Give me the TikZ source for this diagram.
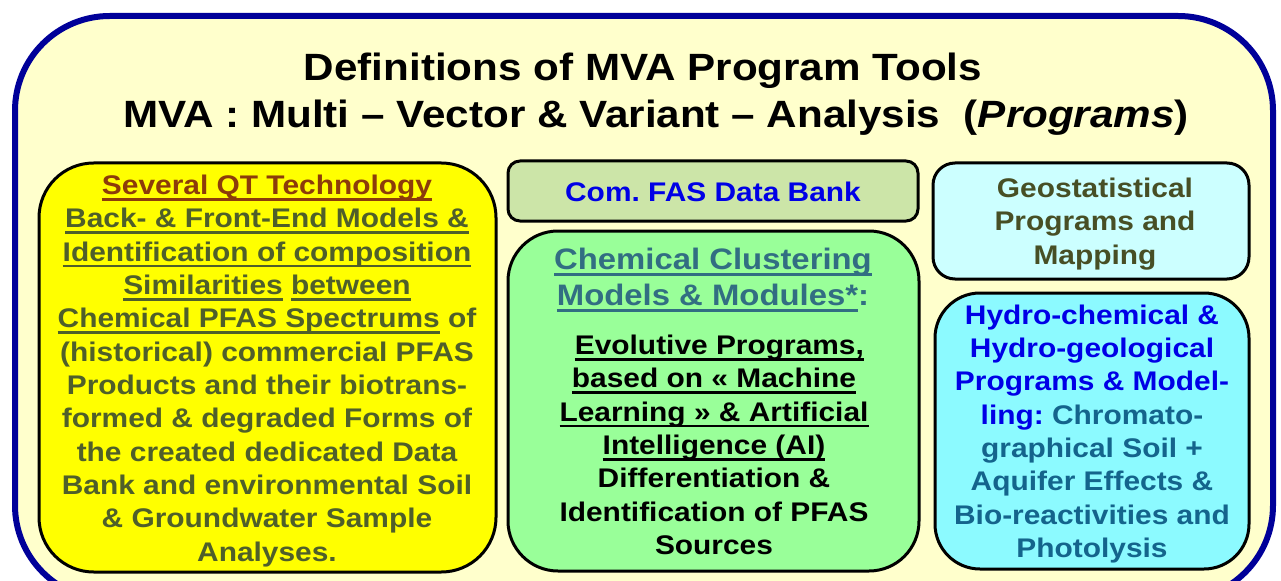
\documentclass[tikz,border=0pt]{standalone}
\usepackage{fontspec}
\setmainfont{Liberation Sans}[FakeStretch=1.11]
\frenchspacing

% underline at a fixed depth below the baseline
\newsavebox\ulbox
\newcommand\ulx[1]{\sbox\ulbox{#1}\rlap{\rule[-0.22em]{\wd\ulbox}{0.1em}}\usebox\ulbox}

\definecolor{paper}{HTML}{FFFFCC}
\definecolor{framecol}{HTML}{000099}
\definecolor{qtyellow}{HTML}{FFFF00}
\definecolor{bankfill}{HTML}{CCE5A8}
\definecolor{clusterfill}{HTML}{99FF99}
\definecolor{geofill}{HTML}{CCFFFF}
\definecolor{hydrofill}{HTML}{8CFAFF}
\definecolor{olive}{HTML}{4F5F2A}
\definecolor{geotext}{HTML}{474F25}
\definecolor{rust}{HTML}{8C3C0A}
\definecolor{pblue}{HTML}{0000E6}
\definecolor{slateteal}{HTML}{326E82}
\definecolor{waterteal}{HTML}{14648C}

\tikzset{
  panel/.style={draw=black, line width=2.25pt, inner sep=0pt},
  bodytext/.style={align=center, inner sep=0pt, font=\fontsize{20.2}{25}\selectfont\bfseries},
  titletext/.style={inner sep=0pt, font=\fontsize{28.5}{35}\selectfont\bfseries}
}

\begin{document}
\begin{tikzpicture}[x=0.75pt,y=-0.75pt]
\useasboundingbox (0,0) rectangle (1281,581);
\clip (0,0) rectangle (1281,581);

% outer frame
\node[draw=framecol, fill=paper, line width=4.5pt, rounded corners=71pt,
      minimum width=943.5pt, minimum height=438pt] (frame) at (644,308) {};

% headline
\node[titletext] (title1) at (643,71) {Definitions of MVA Program Tools};
\node[titletext] (title2) at (656,118) {MVA : Multi – Vector \& Variant – Analysis \ (\textit{Programs})};

% panels
\node[panel, fill=qtyellow, rounded corners=41pt, minimum width=342.75pt, minimum height=306.75pt] (qt) at (267.5,367.5) {};
\node[panel, fill=bankfill, rounded corners=9pt, minimum width=307.5pt, minimum height=45pt] (bank) at (713,191) {};
\node[panel, fill=clusterfill, rounded corners=37.5pt, minimum width=308.25pt, minimum height=255pt] (cluster) at (713.5,401) {};
\node[panel, fill=geofill, rounded corners=16.5pt, minimum width=237pt, minimum height=87pt] (geo) at (1091,221) {};
\node[panel, fill=hydrofill, rounded corners=33.75pt, minimum width=235.5pt, minimum height=207pt] (hydro) at (1092,431) {};

% QT technology text
\node[bodytext, text=olive] (qttext) at (267,371) {%
  \textcolor{rust}{\ulx{Several QT Technology}}\\
  \ulx{Back- \& Front-End Models \&}\\
  \ulx{Identification of composition}\\
  \ulx{Similarities} \ulx{between}\\
  \ulx{Chemical PFAS Spectrums} of\\
  (historical) commercial PFAS\\
  Products and their biotrans-\\
  formed \& degraded Forms of\\
  the created dedicated Data\\
  Bank and environmental Soil\\
  \& Groundwater Sample\\
  Analyses.};

% data bank
\node[bodytext, text=pblue] (banktext) at (713,192) {Com. FAS Data Bank};

% clustering
\node[bodytext, text=slateteal, font=\fontsize{22.2}{27}\selectfont\bfseries] (clusterhead) at (713,280)
  {\ulx{Chemical Clustering}\\ \ulx{Models \& Modules*}:};
\node[bodytext, text=black] (clusterbody) at (714,445) {%
  \hspace{0.4em}\ulx{Evolutive Programs,}\\
  \ulx{based on « Machine}\\
  \ulx{Learning » \& Artificial}\\
  \ulx{Intelligence (AI)}\\
  Differentiation \&\\
  Identification of PFAS\\
  Sources};

% geostatistics
\node[bodytext, text=geotext] (geotxt) at (1095,224)
  {Geostatistical\\ Programs and\\ Mapping};

% hydro
\node[bodytext, text=waterteal] (hydrotext) at (1092,434) {%
  \textcolor{pblue}{Hydro-chemical \&}\\
  \textcolor{pblue}{Hydro-geological}\\
  \textcolor{pblue}{Programs \& Model-}\\
  \textcolor{pblue}{ling:} Chromato-\\
  graphical Soil +\\
  Aquifer Effects \&\\
  Bio-reactivities and\\
  Photolysis};
\end{tikzpicture}
\end{document}
